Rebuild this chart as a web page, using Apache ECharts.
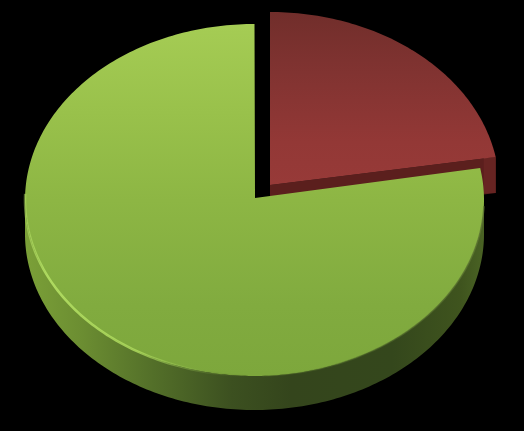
<!DOCTYPE html>
<html>
<head>
<meta charset="utf-8">
<style>html,body{margin:0;padding:0;background:#000;}#c{width:524px;height:431px;}</style>
<script src="https://cdn.jsdelivr.net/npm/echarts@6/dist/echarts.min.js"></script>
</head>
<body>
<div id="c"></div>
<script>
const sliceNames = ['Slice 1', 'Slice 2'];
const sliceValues = [22.1, 77.9];

const total = sliceValues.reduce((a, b) => a + b, 0);
const geometry = [
  { cx: 270, cy: 189, rx: 229.5, ry: 177, ax: 270, ay: 185, depth: 36 },
  { cx: 254.5, cy: 200, rx: 229.5, ry: 176, ax: 255, ay: 198, depth: 34 }
];
const vGrad = (stops, y0, y1) => ({
  type: 'linear', x: 0, y: y0, x2: 0, y2: y1, global: true,
  colorStops: stops.map(s => ({ offset: s[0], color: s[1] }))
});
const hGrad = (stops, x0, x1) => ({
  type: 'linear', x: x0, y: 0, x2: x1, y2: 0, global: true,
  colorStops: stops.map(s => ({ offset: s[0], color: s[1] }))
});
function arcPts(g, a0, a1, dy) {
  const pts = [];
  const n = Math.max(2, Math.ceil((a1 - a0) / 1));
  for (let i = 0; i <= n; i++) {
    const t = (a0 + (a1 - a0) * i / n) * Math.PI / 180;
    pts.push([g.cx + g.rx * Math.sin(t), g.cy - g.ry * Math.cos(t) + (dy || 0)]);
  }
  return pts;
}
const poly = (points, fill) => ({ type: 'polygon', shape: { points }, style: { fill, stroke: null } });
const line = (points, stroke, w) => ({ type: 'polyline', shape: { points }, style: { stroke, fill: null, lineWidth: w } });

function renderSlice(params, api) {
  const i = params.dataIndex;
  const g = geometry[i];
  let before = 0;
  for (let k = 0; k < i; k++) before += sliceValues[k];
  const a0 = before / total * 360;
  const a1 = a0 + api.value(0) / total * 360;
  const top = [[g.ax, g.ay]].concat(arcPts(g, a0, a1));
  const children = [];
  if (i === 0) {
    const end = arcPts(g, a1, a1)[0];
    children.push(poly([[g.ax, g.ay], end, [end[0], end[1] + g.depth], [g.ax, g.ay + g.depth]], '#5b1f1d'));
    children.push(poly([[end[0] - 12, end[1] + 1], end, [end[0], end[1] + g.depth], [end[0] - 12, end[1] + g.depth]], '#672422'));
    children.push(poly(top, vGrad([[0, '#712e2b'], [0.35, '#813331'], [0.75, '#933836'], [1, '#973a38']], 12, 185)));
  } else {
    const lo = arcPts(g, 90, 270);
    const wall = lo.concat(arcPts(g, 90, 270, g.depth).reverse());
    children.push(poly(wall, hGrad([
      [0, '#7ba038'], [0.12, '#6c8e32'], [0.28, '#536f29'], [0.45, '#3c5020'],
      [0.58, '#34451c'], [0.8, '#34471c'], [0.95, '#3f541e'], [1, '#4a6324']
    ], 25, 484)));
    children.push(poly(top, vGrad([[0, '#a5cc54'], [0.25, '#99c14b'], [0.5, '#8db644'], [0.8, '#81ab3f'], [1, '#7da73c']], 25, 376)));
    children.push(line(arcPts(g, 178, 272), hGrad([
      [0, 'rgba(60,78,28,0)'], [0.3, 'rgba(150,195,80,0.45)'], [0.5, 'rgba(172,216,92,0.85)'],
      [0.9, 'rgba(178,222,98,0.95)'], [1, 'rgba(178,222,98,0.5)']
    ], 250, 25), 2.5));
    children.push(line(arcPts(g, 92, 178), hGrad([
      [0, 'rgba(95,120,50,0.8)'], [0.55, 'rgba(75,100,40,0.6)'], [1, 'rgba(120,160,60,0.1)']
    ], 484, 255), 1.5));
  }
  return { type: 'group', children };
}

const chart = echarts.init(document.getElementById('c'), null, { renderer: 'canvas' });
chart.setOption({
  backgroundColor: '#000000',
  animation: false,
  series: [{
    type: 'custom',
    coordinateSystem: 'none',
    silent: true,
    renderItem: renderSlice,
    data: sliceValues.map((v, i) => ({ name: sliceNames[i], value: [v] }))
  }]
});
</script>
</body>
</html>
